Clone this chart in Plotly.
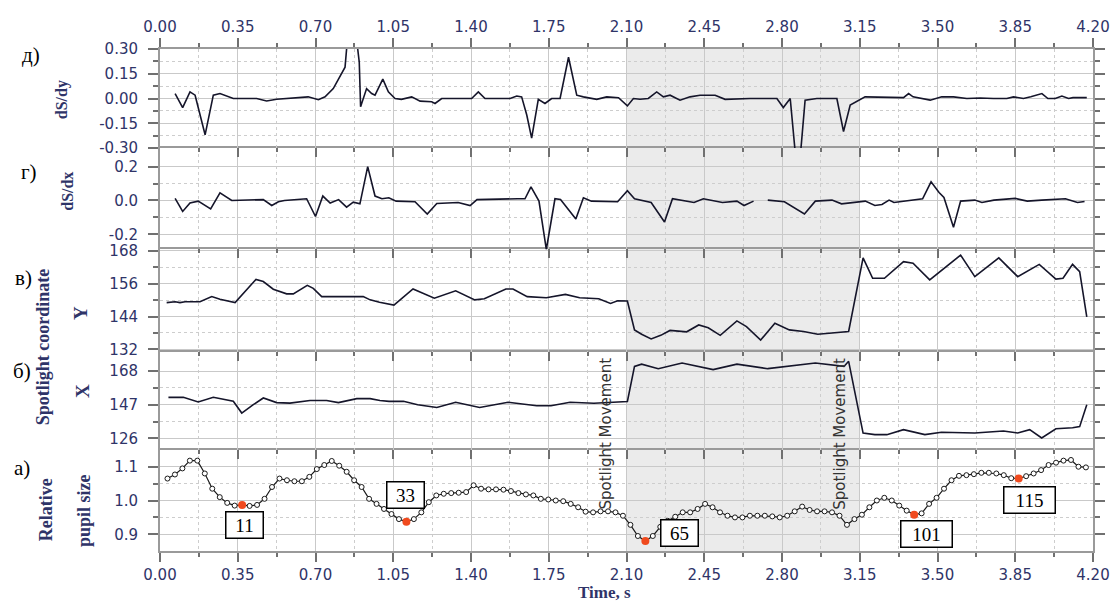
import plotly.graph_objects as go

# ---------------- data ----------------
FPS = 29.75  # video frames per second (frame index -> time)
frames = list(range(1, 125))
pupil = [1.065, 1.077, 1.095, 1.118, 1.118, 1.080, 1.035, 1.010, 0.993, 0.985,
         0.987, 0.984, 0.987, 1.005, 1.040, 1.065, 1.060, 1.057, 1.057, 1.070,
         1.093, 1.105, 1.117, 1.103, 1.085, 1.060, 1.040, 1.005, 0.990, 0.975,
         0.960, 0.945, 0.937, 0.945, 0.965, 0.995, 1.015, 1.020, 1.022, 1.023,
         1.025, 1.045, 1.035, 1.033, 1.033, 1.032, 1.028, 1.022, 1.018, 1.015,
         1.005, 1.003, 1.000, 0.998, 0.990, 0.980, 0.967, 0.965, 0.968, 0.968,
         0.965, 0.955, 0.928, 0.895, 0.880, 0.895, 0.922, 0.940, 0.952, 0.965,
         0.965, 0.975, 0.990, 0.980, 0.965, 0.955, 0.950, 0.950, 0.955, 0.955,
         0.955, 0.953, 0.950, 0.955, 0.968, 0.982, 0.972, 0.968, 0.968, 0.965,
         0.955, 0.928, 0.945, 0.958, 0.980, 1.000, 1.008, 1.000, 0.985, 0.970,
         0.958, 0.962, 0.990, 1.008, 1.035, 1.060, 1.073, 1.075, 1.078, 1.082,
         1.082, 1.080, 1.075, 1.066, 1.065, 1.072, 1.080, 1.090, 1.105, 1.112,
         1.118, 1.120, 1.100, 1.098]
marked = [11, 33, 65, 101, 115]

dsdy_t = [0.068, 0.102, 0.135, 0.158, 0.203, 0.240, 0.270, 0.330, 0.435, 0.480,
          0.525, 0.645, 0.667, 0.713, 0.743, 0.780, 0.833, 0.840, 0.850, 0.880,
          0.890, 0.897, 0.903, 0.930, 0.953, 0.968, 1.003, 1.028, 1.058, 1.087,
          1.133, 1.171, 1.223, 1.238, 1.268, 1.403, 1.433, 1.463, 1.576, 1.606,
          1.628, 1.651, 1.673, 1.703, 1.733, 1.763, 1.801, 1.839, 1.876, 1.906,
          1.966, 2.011, 2.064, 2.104, 2.131, 2.161, 2.198, 2.236, 2.266, 2.296,
          2.341, 2.386, 2.431, 2.499, 2.544, 2.656, 2.777, 2.806, 2.837, 2.868,
          2.876, 2.904, 2.957, 3.047, 3.077, 3.107, 3.144, 3.174, 3.347, 3.370,
          3.390, 3.467, 3.519, 3.572, 3.632, 3.692, 3.752, 3.812, 3.842, 3.887,
          3.920, 3.970, 3.997, 4.030, 4.060, 4.090, 4.110, 4.172]
dsdy_v = [0.03, -0.055, 0.04, 0.02, -0.22, 0.02, 0.03, 0.0, 0.0, -0.015,
          -0.005, 0.005, 0.01, -0.007, 0.01, 0.06, 0.19, 0.30, 0.60, 0.60,
          0.30, 0.22, -0.05, 0.06, 0.03, 0.02, 0.117, 0.04, 0.0, -0.005,
          0.01, -0.016, -0.02, -0.03, 0.0, 0.0, 0.04, 0.0, 0.0, 0.015,
          0.01, -0.10, -0.24, -0.005, -0.03, 0.0, 0.0, 0.25, 0.02, 0.01,
          -0.005, 0.01, 0.005, -0.045, 0.0, -0.005, 0.0, 0.04, 0.01, 0.02,
          -0.01, 0.01, 0.02, 0.02, -0.005, 0.0, 0.0, -0.055, 0.0, -0.45,
          -0.45, -0.01, 0.0, 0.0, -0.20, -0.04, -0.01, 0.01, 0.005, 0.03,
          0.01, -0.01, 0.01, 0.01, 0.0, 0.003, 0.0, 0.0, 0.01, 0.0,
          0.01, 0.03, 0.0, 0.0, 0.015, 0.0, 0.005, 0.005]

dsdx_t = [0.068, 0.102, 0.135, 0.172, 0.228, 0.270, 0.323, 0.465, 0.503, 0.533,
          0.560, 0.660, 0.700, 0.733, 0.766, 0.804, 0.840, 0.870, 0.900, 0.935,
          0.968, 0.999, 1.030, 1.063, 1.148, 1.203, 1.246, 1.342, 1.396, 1.427,
          1.610, 1.643, 1.670, 1.706, 1.739, 1.778, 1.803, 1.872, 1.906, 1.942,
          2.060, 2.104, 2.136, 2.211, 2.271, 2.307, 2.404, 2.446, 2.532, 2.597,
          2.629, 2.672, 2.700, 2.736, 2.811, 2.901, 2.950, 3.025, 3.068, 3.175,
          3.218, 3.250, 3.282, 3.304, 3.433, 3.471, 3.507, 3.529, 3.572, 3.604,
          3.668, 3.700, 3.754, 3.850, 3.904, 3.969, 4.033, 4.076, 4.130, 4.162]
dsdx_v = [0.012, -0.065, -0.015, -0.004, -0.05, 0.045, 0.0, 0.005, -0.03, -0.008,
          0.0, 0.01, -0.095, 0.026, -0.015, 0.005, -0.04, -0.01, -0.02, 0.20,
          0.026, 0.01, 0.016, -0.004, -0.008, -0.08, -0.018, -0.012, -0.03, 0.005,
          0.01, 0.01, 0.08, -0.004, -0.29, 0.01, 0.006, -0.11, 0.016, -0.004,
          -0.008, 0.057, 0.01, -0.012, -0.127, 0.01, -0.012, 0.01, -0.012, -0.004,
          -0.03, -0.004, None, 0.002, -0.008, -0.08, -0.004, 0.002, -0.02, -0.004,
          -0.03, -0.024, 0.002, -0.012, 0.01, 0.11, 0.047, 0.018, -0.158, -0.004,
          0.002, -0.012, 0.002, 0.012, -0.004, 0.002, 0.006, 0.01, -0.012, -0.006]

ycoord_t = [0.030, 0.068, 0.090, 0.113, 0.180, 0.233, 0.270, 0.338, 0.432, 0.465,
            0.510, 0.570, 0.600, 0.663, 0.690, 0.728, 0.915, 0.946, 0.988, 1.053,
            1.139, 1.192, 1.235, 1.331, 1.417, 1.460, 1.557, 1.589, 1.653, 1.739,
            1.825, 1.889, 1.975, 2.028, 2.060, 2.104, 2.136, 2.168, 2.211, 2.254,
            2.296, 2.371, 2.425, 2.468, 2.522, 2.597, 2.640, 2.704, 2.768, 2.833,
            2.897, 2.961, 3.100, 3.165, 3.208, 3.261, 3.347, 3.390, 3.465, 3.604,
            3.668, 3.776, 3.861, 3.958, 4.033, 4.065, 4.108, 4.140, 4.172]
ycoord_v = [149.1, 149.4, 149.1, 149.4, 149.4, 151.3, 150.3, 149.1, 157.6, 156.8,
            154.0, 152.3, 152.3, 155.4, 154.3, 151.3, 151.3, 150.1, 149.2, 148.2,
            154.1, 152.1, 150.7, 153.4, 150.1, 150.5, 154.1, 154.1, 151.3, 150.9,
            152.1, 150.9, 150.5, 148.8, 149.8, 149.7, 139.1, 137.5, 135.8, 137.1,
            138.9, 138.4, 140.9, 139.9, 137.1, 142.4, 140.3, 135.4, 141.5, 139.1,
            138.5, 137.5, 138.5, 165.5, 158.0, 158.0, 164.1, 163.5, 157.4, 166.5,
            158.6, 165.5, 158.6, 163.1, 157.7, 158.0, 163.1, 160.4, 143.9]

xcoord_t = [0.038, 0.105, 0.172, 0.240, 0.330, 0.368, 0.420, 0.465, 0.525, 0.585,
            0.675, 0.750, 0.803, 0.886, 0.946, 0.990, 1.031, 1.096, 1.160, 1.246,
            1.331, 1.439, 1.567, 1.696, 1.760, 1.846, 1.953, 2.104, 2.136, 2.168,
            2.243, 2.350, 2.490, 2.597, 2.736, 2.950, 3.079, 3.100, 3.165, 3.218,
            3.272, 3.347, 3.443, 3.518, 3.668, 3.797, 3.861, 3.915, 3.969, 4.033,
            4.108, 4.140, 4.172]
xcoord_v = [151.6, 151.6, 148.7, 151.6, 149.1, 141.8, 147.0, 151.2, 148.3, 148.0,
            149.6, 149.6, 148.3, 150.8, 150.8, 149.6, 149.1, 149.1, 147.0, 145.3,
            148.5, 145.3, 148.5, 146.3, 146.3, 148.5, 147.9, 149.0, 170.9, 172.3,
            169.5, 173.0, 168.9, 172.3, 169.5, 173.0, 170.9, 174.1, 129.3, 128.3,
            128.3, 131.4, 128.3, 129.8, 129.3, 130.6, 129.3, 131.4, 126.2, 132.0,
            132.6, 133.3, 147.0]

x_ticks = [0.0, 0.35, 0.70, 1.05, 1.40, 1.75, 2.10, 2.45, 2.80, 3.15, 3.50, 3.85, 4.20]
x_ticktext = ["0.00", "0.35", "0.70", "1.05", "1.40", "1.75", "2.10", "2.45",
              "2.80", "3.15", "3.50", "3.85", "4.20"]
shade = [2.10, 3.15]

# ---------------- style ----------------
NAVY = "#2f3468"
LINE = "#15152a"
GRID = "#c9c9c9"
FRAME = "#9a9a9a"
TICKC = "#707070"
SERIF = "Liberation Serif"
SANS = "DejaVu Sans"

t_pupil = [f / FPS for f in frames]
t_marked = [f / FPS for f in marked]
v_marked = [pupil[frames.index(f)] for f in marked]
x_minor = [round(v + 0.175, 3) for v in x_ticks[:-1]]

fig = go.Figure()
line_style = dict(color=LINE, width=1.6)
fig.add_trace(go.Scatter(x=t_pupil, y=pupil, mode="lines+markers", xaxis="x", yaxis="y",
                         line=dict(color="#1a1a1a", width=1.2),
                         marker=dict(size=5, color="white", line=dict(color="#1a1a1a", width=1))))
fig.add_trace(go.Scatter(x=t_marked, y=v_marked, mode="markers", xaxis="x", yaxis="y",
                         marker=dict(size=8, color="#f04a1e")))
fig.add_trace(go.Scatter(x=xcoord_t, y=xcoord_v, mode="lines", xaxis="x2", yaxis="y2", line=line_style))
fig.add_trace(go.Scatter(x=ycoord_t, y=ycoord_v, mode="lines", xaxis="x3", yaxis="y3", line=line_style))
fig.add_trace(go.Scatter(x=dsdx_t, y=dsdx_v, mode="lines", xaxis="x4", yaxis="y4", line=line_style,
                         connectgaps=False))
fig.add_trace(go.Scatter(x=dsdy_t, y=dsdy_v, mode="lines", xaxis="x5", yaxis="y5", line=line_style))
fig.add_trace(go.Scatter(x=[None], y=[None], xaxis="x6", yaxis="y", hoverinfo="skip"))

tickfont = dict(family=SANS, size=15, color=NAVY)


def xax(anchor, side, ticks, labels, grid=True, standoff=0):
    d = dict(anchor=anchor, side=side, range=[0, 4.2], tickmode="array", tickvals=x_ticks,
             ticktext=x_ticktext, showticklabels=labels, ticks=ticks, ticklen=9, tickwidth=2,
             tickcolor=TICKC, showgrid=grid, gridcolor=GRID, gridwidth=1.2, showline=True,
             linecolor=FRAME, linewidth=2, zeroline=False, automargin=False,
             tickfont=dict(family=SANS, size=15, color=NAVY),
             ticklabelstandoff=standoff,
             minor=dict(tickmode="array", tickvals=x_minor, ticks=ticks, ticklen=4, tickwidth=2,
                        tickcolor=TICKC, showgrid=grid, gridcolor="#cdcdcd", griddash="3px,3px",
                        gridwidth=1))
    return d


def yax(anchor, domain, rng, vals, text, minor_vals):
    return dict(anchor=anchor, domain=domain, range=rng, tickmode="array", tickvals=vals,
                ticktext=text, ticks="outside", ticklen=10, tickwidth=2, tickcolor=TICKC,
                showgrid=True, gridcolor=GRID, gridwidth=1.2, showline=True, linecolor=FRAME,
                linewidth=2, mirror="ticks", zeroline=False, tickfont=tickfont,
                ticklabelstandoff=7, automargin=False,
                minor=dict(tickmode="array", tickvals=minor_vals, ticks="outside", ticklen=5,
                           tickwidth=2, tickcolor=TICKC, showgrid=True, gridcolor="#cdcdcd",
                           griddash="3px,3px", gridwidth=1))


Da, Db, Dc, Dd, De = [0, 0.2002], [0.2002, 0.3964], [0.3964, 0.6006], [0.6006, 0.8028], [0.8028, 1]

x6 = xax("y", "top", "inside", False, grid=False)
x6["overlaying"] = "x"

# the page body adds an 8px offset, so the figure is 8px smaller with 8px less left/top margin
fig.update_layout(
    width=1110, height=595, margin=dict(l=152, r=25, t=41, b=52, autoexpand=False),
    paper_bgcolor="white", plot_bgcolor="rgba(0,0,0,0)", showlegend=False,
    xaxis=xax("y", "bottom", "outside", True, standoff=0),
    xaxis2=xax("y2", "top", "inside", False),
    xaxis3=xax("y3", "top", "inside", False),
    xaxis4=xax("y4", "top", "inside", False),
    xaxis5=xax("y5", "top", "outside", True, standoff=0),
    xaxis6=x6,
    yaxis=yax("x", Da, [0.8506, 1.148], [0.9, 1.0, 1.1], ["0.9", "1.0", "1.1"], [0.95, 1.05]),
    yaxis2=yax("x2", Db, [118.4, 179.9], [126, 147, 168], ["126", "147", "168"], [136.5, 157.5]),
    yaxis3=yax("x3", Dc, [131.0, 168.55], [132, 144, 156, 168], ["132", "144", "156", "168"],
               [138, 150, 162]),
    yaxis4=yax("x4", Dd, [-0.29, 0.31], [-0.2, 0.0, 0.2], ["-0.2", "0.0", "0.2"], [-0.1, 0.1]),
    yaxis5=yax("x5", De, [-0.30, 0.30], [-0.30, -0.15, 0.0, 0.15, 0.30],
               ["-0.30", "-0.15", "0.00", "0.15", "0.30"], [-0.225, -0.075, 0.075, 0.225]),
)

fig.add_shape(type="rect", xref="x", yref="paper", x0=shade[0], x1=shade[1], y0=0, y1=1,
              fillcolor="#ebebeb", line=dict(width=0), layer="below")

ann = []
# panel letters
for txt, x, y in [("д)", -0.138, 0.988), ("г)", -0.140, 0.755), ("в)", -0.146, 0.544),
                  ("б)", -0.148, 0.359), ("а)", -0.148, 0.165)]:
    ann.append(dict(text=txt, x=x, y=y, xref="paper", yref="paper", showarrow=False,
                    xanchor="center", yanchor="middle",
                    font=dict(family=SERIF, size=21, color="black")))
# axis titles
for txt, x, y, s in [("<b>dS/dy</b>", -0.105, 0.898, 16), ("<b>dS/dx</b>", -0.100, 0.717, 16),
                     ("<b>Y</b>", -0.0857, 0.474, 19), ("<b>X</b>", -0.0825, 0.319, 19),
                     ("<b>Spotlight coordinate</b>", -0.1254, 0.406, 18),
                     ("<b>Relative</b>", -0.122, 0.0817, 18), ("<b>pupil size</b>", -0.0815, 0.0817, 18)]:
    ann.append(dict(text=txt, x=x, y=y, xref="paper", yref="paper", showarrow=False, textangle=-90,
                    xanchor="center", yanchor="middle",
                    font=dict(family=SERIF, size=s, color=NAVY)))
ann.append(dict(text="<b>Time, s</b>", x=0.476, y=-0.082, xref="paper", yref="paper", showarrow=False,
                xanchor="center", yanchor="middle",
                font=dict(family=SERIF, size=17, color=NAVY)))
# spotlight movement markers
for xv in shade:
    ann.append(dict(text="Spotlight Movement", x=xv, y=0.233, xref="x", yref="paper", xanchor="right",
                    yanchor="middle", xshift=-9, showarrow=False, textangle=-90,
                    font=dict(family=SANS, size=15, color="#333333")))
# frame labels
shifts = {11: (2, -20), 33: (-1, 27), 65: (34, 8), 101: (12, -19), 115: (11, -21)}
for f, xv, yv in zip(marked, t_marked, v_marked):
    dx, dy = shifts[f]
    ann.append(dict(text=str(f), x=xv, y=yv, xref="x", yref="y", showarrow=False,
                    xanchor="center", yanchor="middle",
                    xshift=dx, yshift=dy, bgcolor="white", bordercolor="black", borderwidth=1.5,
                    borderpad=2, width=32 if f < 100 else 46, height=21,
                    font=dict(family=SERIF, size=19, color="black")))
fig.update_layout(annotations=ann)

fig.write_html("out.html")
